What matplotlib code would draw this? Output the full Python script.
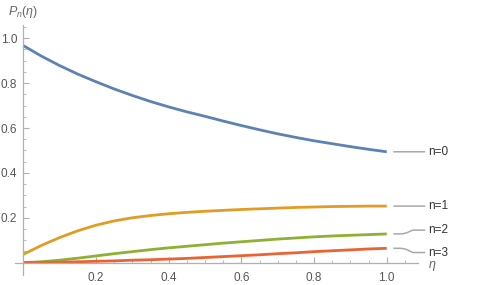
import numpy as np
import matplotlib.pyplot as plt
from matplotlib.path import Path
from matplotlib.patches import PathPatch

plt.rcParams['font.family'] = ['Liberation Sans', 'DejaVu Sans']
plt.rcParams['mathtext.fontset'] = 'custom'
plt.rcParams['mathtext.rm'] = 'Liberation Sans'
plt.rcParams['mathtext.it'] = 'Liberation Sans:italic'

# values
eta = [0.0, 0.05, 0.1, 0.15, 0.2, 0.25, 0.3, 0.35, 0.4, 0.45, 0.5,
       0.55, 0.6, 0.65, 0.7, 0.75, 0.8, 0.85, 0.9, 0.95, 1.0]
p0 = [0.967, 0.920, 0.878, 0.840, 0.806, 0.774, 0.745, 0.718, 0.694, 0.672, 0.652,
      0.631, 0.611, 0.592, 0.574, 0.558, 0.543, 0.530, 0.517, 0.505, 0.494]
p1 = [0.037, 0.077, 0.112, 0.142, 0.167, 0.186, 0.200, 0.210, 0.218, 0.224, 0.229,
      0.233, 0.237, 0.240, 0.243, 0.246, 0.248, 0.250, 0.251, 0.252, 0.252]
p2 = [0.0, 0.004, 0.011, 0.020, 0.030, 0.040, 0.049, 0.058, 0.066, 0.073, 0.080,
      0.087, 0.093, 0.099, 0.105, 0.110, 0.115, 0.119, 0.122, 0.125, 0.128]
p3 = [0.0, 0.001, 0.002, 0.004, 0.006, 0.008, 0.011, 0.013, 0.016, 0.019, 0.023,
      0.027, 0.031, 0.035, 0.040, 0.044, 0.049, 0.053, 0.057, 0.061, 0.064]
labels = ["n=0", "n=1", "n=2", "n=3"]
label_y = [0.494, 0.252, 0.145, 0.045]

colors = ["#5E81B5", "#E19C24", "#8FB032", "#EB6235"]
axis_col = "#b0b0b0"
text_col = "#555555"

fig = plt.figure(figsize=(4.91, 2.85), dpi=100)
ax = fig.add_axes([15 / 491, 10 / 285, 403 / 491, 250 / 285])

for ys, c in zip([p0, p1, p2, p3], colors):
    ax.plot(eta, ys, color=c, lw=2.0, solid_capstyle='butt', clip_on=False)

# callout lines + labels
x0, x1 = 1.018, 1.106
for ys, ly, lab in zip([p0, p1, p2, p3], label_y, labels):
    y0 = ys[-1]
    xm = (x0 + x1) / 2
    verts = [(x0, y0), (x0 + 0.015, y0), (xm, y0), (xm, ly), (x1 - 0.03, ly), (x1, ly)]
    codes = [Path.MOVETO, Path.LINETO, Path.CURVE4, Path.CURVE4, Path.CURVE4, Path.LINETO]
    ax.add_patch(PathPatch(Path(verts, codes), fill=False, ec="#a8a8a8", lw=1.1,
                           clip_on=False))
    ax.text(x1 + 0.007, ly, lab, fontsize=8.5, color="#333333", va='center',
            ha='left', clip_on=False)

ax.set_xlim(-0.023, 1.086)
ax.set_ylim(-0.055, 1.059)

for s in ['top', 'right']:
    ax.spines[s].set_visible(False)
ax.spines['left'].set_position(('data', 0))
ax.spines['bottom'].set_position(('data', 0))
for s in ['left', 'bottom']:
    ax.spines[s].set_color(axis_col)
    ax.spines[s].set_linewidth(0.9)

ax.set_xticks([0.2, 0.4, 0.6, 0.8, 1.0])
ax.set_xticklabels(["0.2", "0.4", "0.6", "0.8", "1.0"])
ax.set_yticks([0.2, 0.4, 0.6, 0.8, 1.0])
ax.set_yticklabels(["0.2", "0.4", "0.6", "0.8", "1.0"])
ax.set_xticks([v for v in np.arange(0.05, 1.06, 0.05) if round(v * 20) % 4 != 0], minor=True)
ax.set_yticks([v for v in np.arange(0.05, 1.06, 0.05) if round(v * 20) % 4 != 0], minor=True)
ax.tick_params(which='major', direction='in', length=4, width=0.8, color=axis_col,
               labelsize=8.5, labelcolor=text_col)
ax.tick_params(which='minor', direction='in', length=2.2, width=0.6, color=axis_col)
ax.tick_params(axis='x', which='major', pad=7)
ax.tick_params(axis='y', which='major', pad=4.5)

fig.text(23 / 491, 1 - 12 / 285, r"$P_n(\eta)$", fontsize=9, color="#666666",
         ha='center', va='center')
fig.text(432 / 491, 1 - 266 / 285, r"$\eta$", fontsize=9, color="#666666",
         ha='center', va='center')

fig.savefig("out.png", dpi=100)
